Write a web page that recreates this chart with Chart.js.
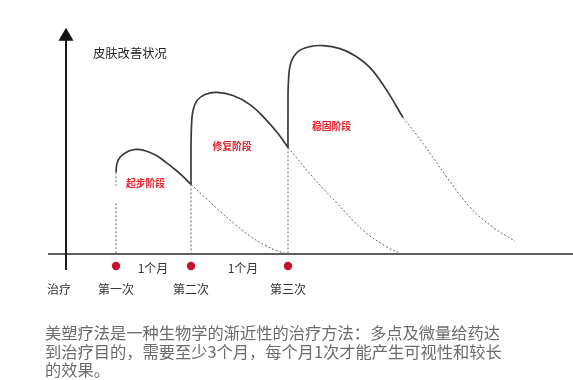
<!DOCTYPE html>
<html><head><meta charset="utf-8">
<script src="https://cdn.jsdelivr.net/npm/chart.js@4.4.1/dist/chart.umd.min.js"></script>
<style>
html,body{margin:0;padding:0;background:#fff;overflow:hidden}
#wrap{width:573px;height:380px;position:relative}
#c{position:absolute;left:0;top:0}
#para{position:absolute;left:45px;top:323px;font-family:"Noto Sans CJK SC","Noto Sans",sans-serif;font-size:16.25px;line-height:18.5px;color:#6b6b6b;white-space:nowrap;letter-spacing:0}
</style>
</head><body>
<div id="wrap"><canvas id="c" width="573" height="380"></canvas>
<div id="para">美塑疗法是一种生物学的渐近性的治疗方法：多点及微量给药达<br>到治疗目的，需要至少3个月，每个月1次才能产生可视性和较长<br>的效果。</div></div>
<script>
// ---- data (x: time units, y: skin improvement level) ----
const treatmentX = [10, 25, 44.4];
const treatmentLabels = ['第一次', '第二次', '第三次'];
const originLabel = '治疗';
const originX = -1.4;
const intervalLabels = ['1个月', '1个月'];
const intervalX = [17.4, 35.4];
const stageLabels = ['起步阶段', '修复阶段', '稳固阶段'];
const stageX = [15.9, 33.2, 53.1];
const stageY = [27.9, 42.5, 50.4];
const yTitle = '皮肤改善状况';

const stage1X = [10, 10.2, 10.8, 12, 13.2, 14.4, 16, 18, 20, 22, 23.6, 25];
const stage1Y = [32.3, 35.8, 38.2, 40.1, 41.1, 41.3, 40.7, 39, 36.2, 33.1, 30.3, 27.5];
const fade1X = [25, 27.8, 30.8, 33.8, 36.8, 39.8, 42.4, 44.4];
const fade1Y = [27.5, 22.4, 16.9, 11.8, 7.1, 3.5, 1.2, 0];

const stage2X = [25, 25, 25.1, 25.4, 26.2, 27.8, 30.2, 33.4, 36.8, 39.8, 42.4, 44.4];
const stage2Y = [27.5, 40.9, 50.8, 56.7, 60.6, 63.0, 63.8, 62.6, 59.0, 53.5, 47.6, 42.1];
const fade2X = [44.4, 49.4, 54.2, 59.4, 64.2, 67.2];
const fade2Y = [42.1, 30.3, 20.1, 9.4, 2.8, 0];

const stage3X = [44.4, 44.4, 44.5, 45, 46.4, 48.8, 51.4, 54.8, 57.8, 60.8, 63.8, 67.4];
const stage3Y = [42.1, 56.7, 68.5, 75.6, 79.9, 81.9, 82.3, 81.1, 78.3, 73.6, 65.7, 53.9];
const fade3X = [67.4, 71.4, 76.2, 80.8, 85.4, 89.8];
const fade3Y = [53.9, 43.7, 30.3, 18.5, 10.6, 5.1];

const guide1Y = [32.3, 27, null, 20.1, 0];
const guideTopY = [27.5, 42.1];
const dotY = -4.7;
const tickLabelY = -13.8;
const intervalLabelY = -5.5;
const titleX = 5.4, titleY = 79.1;

// ---- build ----
const pts = (xs, ys) => xs.map((x, i) => ({x, y: ys[i]}));
const solid = (d) => ({type:'line', data:d, borderColor:'#3a3a3a', borderWidth:1.7, pointRadius:0, tension:0.4, fill:false, clip:false});
const dotted = (d, t) => ({type:'line', data:d, borderColor:'#666', borderWidth:1, borderDash:[2,2], pointRadius:0, tension:t, fill:false, clip:false, spanGaps:false});

const datasets = [
  solid(pts(stage1X, stage1Y)),
  solid(pts(stage2X, stage2Y)),
  solid(pts(stage3X, stage3Y)),
  dotted(pts(fade1X, fade1Y), 0.4),
  dotted(pts(fade2X, fade2Y), 0.4),
  dotted(pts(fade3X, fade3Y), 0.4),
  dotted(guide1Y.map(y => ({x: treatmentX[0], y})), 0),
  dotted([{x: treatmentX[1], y: guideTopY[0]}, {x: treatmentX[1], y: 0}], 0),
  dotted([{x: treatmentX[2], y: guideTopY[1]}, {x: treatmentX[2], y: 0}], 0),
  {type:'line', data:[{x:0,y:-6.3},{x:0,y:85.9}], borderColor:'#1a1a1a', borderWidth:2, pointRadius:[0,8.7], pointStyle:'triangle', pointBackgroundColor:'#111', pointBorderWidth:0, clip:false},
  {type:'line', data:[{x:-3.6,y:0},{x:101.4,y:0}], borderColor:'#2a2a2a', borderWidth:1.5, pointRadius:0, clip:false},
  {type:'scatter', data:treatmentX.map(x => ({x, y: dotY})), pointRadius:4.2, pointBackgroundColor:'#c8102e', pointBorderWidth:0, clip:false}
];

const textPlugin = {
  id: 'texts',
  afterDatasetsDraw(chart) {
    const {ctx, scales:{x, y}} = chart;
    ctx.save();
    ctx.textBaseline = 'middle';
    ctx.textAlign = 'left';
    ctx.fillStyle = '#222';
    ctx.font = '12.3px "Noto Sans CJK SC", sans-serif';
    ctx.fillText(yTitle, x.getPixelForValue(titleX), y.getPixelForValue(titleY));
    ctx.textAlign = 'center';
    ctx.font = '12px "Noto Sans CJK SC", sans-serif';
    ctx.fillStyle = '#333';
    ctx.fillText(originLabel, x.getPixelForValue(originX), y.getPixelForValue(tickLabelY));
    treatmentLabels.forEach((t, i) => ctx.fillText(t, x.getPixelForValue(treatmentX[i]), y.getPixelForValue(tickLabelY)));
    intervalLabels.forEach((t, i) => ctx.fillText(t, x.getPixelForValue(intervalX[i]), y.getPixelForValue(intervalLabelY)));
    ctx.fillStyle = '#e3202c';
    ctx.font = 'bold 9.8px "Noto Sans CJK SC", sans-serif';
    stageLabels.forEach((t, i) => ctx.fillText(t, x.getPixelForValue(stageX[i]), y.getPixelForValue(stageY[i])));
    ctx.restore();
  }
};

new Chart(document.getElementById('c'), {
  type: 'line',
  data: {datasets},
  options: {
    responsive: false,
    devicePixelRatio: 1,
    animation: false,
    events: [],
    layout: {padding: 0, autoPadding: false},
    plugins: {legend: {display: false}, tooltip: {enabled: false}},
    scales: {
      x: {type: 'linear', min: -13.2, max: 101.4, display: false},
      y: {type: 'linear', min: -49.7, max: 100.3, display: false}
    }
  },
  plugins: [textPlugin]
});
</script>
</body></html>
